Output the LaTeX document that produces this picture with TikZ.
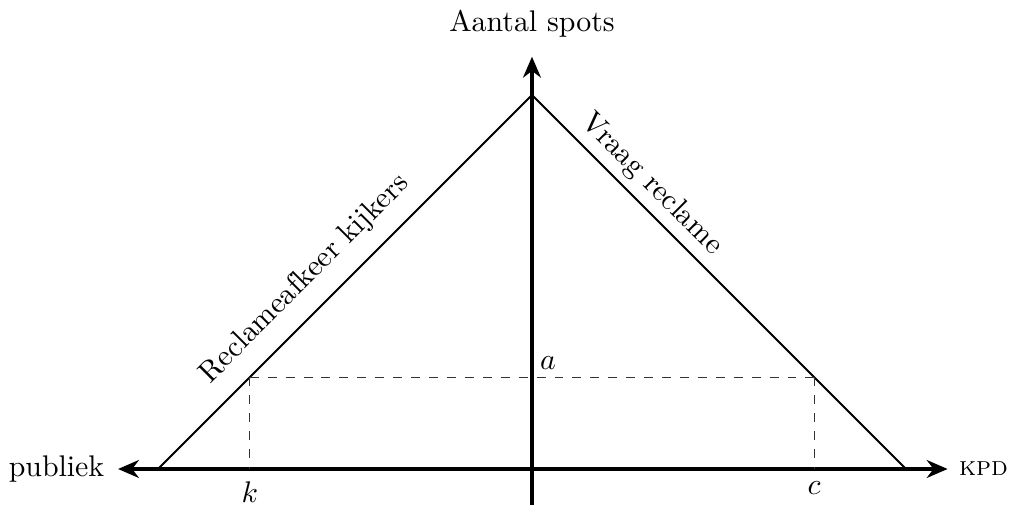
\documentclass[tikz,border=0pt]{standalone}
\usepackage{amsmath,amssymb}
\usetikzlibrary{arrows.meta}

\begin{document}
\begin{tikzpicture}[axis/.style={line width=1.1pt,-{Stealth[length=7pt,width=6pt]}},
  curve/.style={line width=0.7pt},
  guide/.style={dashed,line width=0.4pt,draw=black!80}]
  \useasboundingbox (-6.259,-0.424) rectangle (5.624,5.518);
  % axes
  \coordinate (ybot) at (0,-0.42);
  \coordinate (ytop) at (0,4.85);
  \coordinate (xl) at (-4.87,0);
  \coordinate (xr) at (4.89,0);
  \node[anchor=south] (ylab) at (0,4.95) {Aantal spots};
  \node[anchor=east,inner sep=1pt] (pub) at (-4.99,0) {publiek};
  \node[anchor=west,inner sep=0.5pt] (kpd) at (5.0,0) {\small\textsc{kpd}};
  \draw[axis] (ybot) -- (ytop);
  \draw[axis,{Stealth[length=7pt,width=6pt]}-{Stealth[length=7pt,width=6pt]}] (xl) -- (xr);
  % triangle
  \coordinate (L) at (-4.4,0);
  \coordinate (T) at (0,4.4);
  \coordinate (R) at (4.4,0);
  \draw[curve] (L) -- node[sloped,above,pos=0.45,yshift=2pt] (lab1) {Reclameafkeer kijkers} (T);
  \draw[curve] (T) -- node[sloped,above,pos=0.28,yshift=-1pt] (lab2) {Vraag reclame} (R);
  % equilibrium
  \coordinate (ak) at (-3.32,1.08);
  \coordinate (ac) at (3.32,1.08);
  \coordinate (k) at (-3.32,0);
  \coordinate (c) at (3.32,0);
  \draw[guide] (ak) -- (ac);
  \draw[guide] (ak) -- (k);
  \draw[guide] (ac) -- (c);
  \node[below,inner sep=4pt] (klab) at (k) {$k$};
  \node[below,inner sep=4pt] (clab) at (c) {$c$};
  \node[above right,inner sep=2.5pt] (alab) at (0,1.08) {$a$};
\end{tikzpicture}
\end{document}
